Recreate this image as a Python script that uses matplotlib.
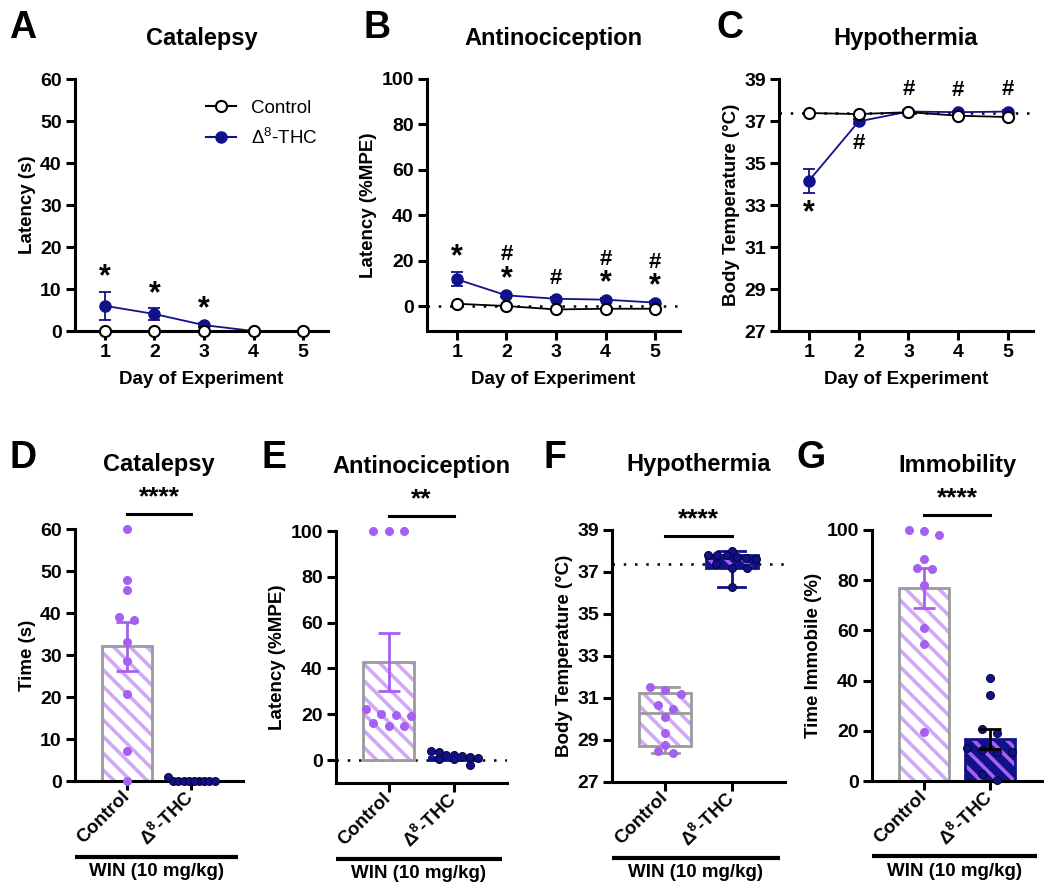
import numpy as np
import matplotlib
matplotlib.use('Agg')
import matplotlib.pyplot as plt
from matplotlib.cbook import boxplot_stats
from matplotlib.patches import PathPatch
from matplotlib.lines import Line2D

plt.rcParams['font.family'] = ['Liberation Sans', 'DejaVu Sans']
plt.rcParams['mathtext.fontset'] = 'custom'
plt.rcParams['mathtext.rm'] = 'Liberation Sans'
plt.rcParams['mathtext.bf'] = 'Liberation Sans:bold'
plt.rcParams['hatch.linewidth'] = 2.6

NAVY = '#11118a'
PURPLE = '#a65ff0'
LILAC = '#d0a8f7'
GRAY = '#9b9b9b'

TICK_FS = 14
LABEL_FS = 13.5
TITLE_FS = 17
LETTER_FS = 27

# ---------------- data: repeated dosing, days 1-5 ----------------
days = [1, 2, 3, 4, 5]
cat_ctrl = [0, 0, 0, 0, 0]
cat_thc = [6.0, 4.05, 1.4, 0, 0]
cat_thc_err = [3.4, 1.5, 0.4, 0, 0]
cat_star = [1, 1, 1, 0, 0]

anti_ctrl = [1.0, 0.0, -1.5, -1.2, -1.2]
anti_thc = [11.8, 4.7, 3.2, 2.8, 1.5]
anti_thc_err = [3.1, 0.8, 0.6, 0.6, 0.5]
anti_star = [1, 1, 0, 1, 1]
anti_hash = [0, 1, 1, 1, 1]

temp_ctrl = [37.38, 37.33, 37.42, 37.25, 37.19]
temp_thc = [34.15, 36.98, 37.45, 37.42, 37.45]
temp_thc_err = [0.57, 0.1, 0.05, 0.05, 0.05]
temp_star = [1, 0, 0, 0, 0]
temp_hash = [0, 1, 1, 1, 1]
baseline_temp = 37.38

# ---------------- data: WIN (10 mg/kg) challenge ----------------
groups = ['Control', r'Δ$^{\mathbf{8}}$-THC']
d_ctrl = [60, 47.9, 45.5, 39.0, 38.4, 33.2, 28.5, 20.7, 7.2, 0]
d_thc = [0, 1.0, 0, 0, 0, 0, 0, 0, 0, 0]
e_ctrl = [100, 100, 100, 22.2, 19.3, 14.8, 19.9, 14.8, 20.3, 16.4]
e_thc = [1.2, -2.2, 1.7, 2.2, 3.9, 0.3, 3.6, 0.3, 2.2, 1.0]
f_ctrl = [31.4, 31.2, 31.5, 30.65, 30.48, 30.1, 29.35, 28.78, 28.38, 28.48]
f_thc = [38.0, 37.8, 37.8, 37.73, 37.8, 37.65, 37.6, 37.4, 37.2, 37.2, 36.3]
g_ctrl = [99.6, 98.0, 100.0, 88.3, 84.7, 84.3, 78.0, 60.8, 54.4, 19.7]
g_thc = [40.9, 34.3, 20.6, 19.0, 11.7, 13.0, 11.7, 12.4, 2.8, 0.5]
sig_bottom = ['****', '**', '****', '****']

W, H = 1050, 896
fig = plt.figure(figsize=(W / 100, H / 100), dpi=100)


def px_axes(l, t, r, b):
    return fig.add_axes([l / W, 1 - b / H, (r - l) / W, (b - t) / H])


def style(ax):
    for s in ['top', 'right']:
        ax.spines[s].set_visible(False)
    for s in ['left', 'bottom']:
        ax.spines[s].set_linewidth(2.2)
    ax.tick_params(width=2.2, length=6.5, labelsize=TICK_FS, pad=3)
    for t in ax.get_xticklabels() + ax.get_yticklabels():
        t.set_fontweight('bold')


def swarm_x(ax, x0, vals, spacing=0.23, maxhalf=0.36, binpx=7):
    vals = np.asarray(vals, float)
    ypx = ax.transData.transform(np.column_stack([np.full(len(vals), x0), vals]))[:, 1]
    order = np.argsort(ypx)
    xs = np.full(len(vals), float(x0))
    groups_ = []
    for i in order:
        if groups_ and ypx[i] - ypx[groups_[-1][0]] <= binpx:
            groups_[-1].append(i)
        else:
            groups_.append([i])
    for g in groups_:
        n = len(g)
        if n == 1:
            continue
        sp = min(spacing, 2 * maxhalf / (n - 1))
        g = sorted(g, key=lambda k: -vals[k])
        for j, k in enumerate(g):
            xs[k] = x0 + (j - (n - 1) / 2) * sp
    return xs


def hatched_bar(ax, x, h, face, hatchcol, edge):
    ax.bar(x, h, width=0.77, color=face, hatch='\\\\', edgecolor=hatchcol, linewidth=0, zorder=1)
    ax.bar(x, h, width=0.77, fill=False, edgecolor=edge, linewidth=2, zorder=2)


def dots(ax, x0, vals, color, edge):
    xs = swarm_x(ax, x0, vals)
    ax.scatter(xs, vals, s=32, color=color, edgecolors=edge, linewidths=0.8, zorder=4, clip_on=False)


def bottom_common(ax, title, letter, letter_x, sig):
    ax.set_xlim(-0.8, 1.8)
    ax.set_xticks([0, 1])
    ax.set_xticklabels(groups)
    style(ax)
    ax.tick_params(axis='x', labelsize=LABEL_FS)
    for t in ax.get_xticklabels():
        t.set_rotation(45)
        t.set_ha('right')
        t.set_va('center')
        t.set_rotation_mode('anchor')
    ax.text(0.5, 1 + 65 / 252, title, transform=ax.transAxes, ha='center', va='center',
            fontsize=TITLE_FS, fontweight='bold')
    fig.text(letter_x / W, 1 - 468 / H, letter, fontsize=LETTER_FS, fontweight='bold')
    ax.plot([0, 0.97], [-0.30, -0.30], transform=ax.transAxes, color='black', lw=3,
            clip_on=False, solid_capstyle='butt')
    ax.text(0.485, -0.36, 'WIN (10 mg/kg)', transform=ax.transAxes, ha='center', va='center',
            fontsize=LABEL_FS, fontweight='bold')
    # significance bar, 15 px above highest point
    allv = np.concatenate([np.ravel(c.get_offsets()[:, 1]) for c in ax.collections if len(c.get_offsets())])
    y0 = ax.transData.transform((0, allv.max()))[1] + 15
    yl = ax.transData.inverted().transform((0, y0))[1]
    ax.plot([0, 1], [yl, yl], color='black', lw=2.2, clip_on=False)
    ax.annotate(sig, xy=(0.5, yl), xytext=(0, 12), textcoords='offset points', ha='center',
                va='center', fontsize=19, fontweight='bold', annotation_clip=False)


def sem(v):
    v = np.asarray(v, float)
    return v.std(ddof=1) / np.sqrt(len(v))


# ---------------- A, B, C ----------------
axA = px_axes(75, 79, 328, 331)
axB = px_axes(427, 79, 680, 331)
axC = px_axes(779, 79, 1033, 331)

for ax, ctrl, thc, err in [(axA, cat_ctrl, cat_thc, cat_thc_err),
                           (axB, anti_ctrl, anti_thc, anti_thc_err),
                           (axC, temp_ctrl, temp_thc, temp_thc_err)]:
    ax.errorbar(days, thc, yerr=err, color=NAVY, lw=1.3, marker='o', ms=8, mfc=NAVY, mec=NAVY,
                capsize=4, capthick=1.3, zorder=3, clip_on=False)
    ax.plot(days, ctrl, color='black', lw=1.3, marker='o', ms=8, mfc='white', mec='black',
            mew=1.5, zorder=4, clip_on=False)
    ax.set_xlim(0.4, 5.5)
    ax.set_xticks(days)
    ax.set_xlabel('Day of Experiment', fontsize=LABEL_FS, fontweight='bold', labelpad=7)

axA.set_ylim(0, 60)
axA.set_yticks(range(0, 61, 10))
axA.set_ylabel('Latency (s)', fontsize=LABEL_FS, fontweight='bold', labelpad=3)
for d, m, e, s in zip(days, cat_thc, cat_thc_err, cat_star):
    if s:
        axA.text(d, m + e + 3.3, '*', ha='center', va='center', fontsize=22, fontweight='bold')
axA.legend(handles=[Line2D([], [], color='black', marker='o', mfc='white', mec='black', ms=8, mew=1.5),
                    Line2D([], [], color=NAVY, marker='o', mfc=NAVY, mec=NAVY, ms=8)],
           labels=['Control', r'Δ$^{8}$-THC'], loc='upper left', bbox_to_anchor=(0.45, 0.985),
           frameon=False, fontsize=LABEL_FS, handlelength=1.6, labelspacing=0.55, handletextpad=0.8)

axB.set_ylim(-11, 100)
axB.set_yticks(range(0, 101, 20))
axB.set_ylabel('Latency (%MPE)', fontsize=LABEL_FS, fontweight='bold', labelpad=3)
axB.axhline(0, color='black', lw=1.8, ls=(0, (1, 3.5)), zorder=1)
for d, m, e, s, h in zip(days, anti_thc, anti_thc_err, anti_star, anti_hash):
    ys = m + e + 6.5
    if s:
        axB.text(d, ys, '*', ha='center', va='center', fontsize=22, fontweight='bold')
    if h:
        axB.text(d, ys + 10.5 if s else m + 9, '#', ha='center', va='center', fontsize=16, fontweight='bold')

axC.set_ylim(27, 39)
axC.set_yticks(range(27, 40, 2))
axC.set_ylabel('Body Temperature (°C)', fontsize=LABEL_FS, fontweight='bold', labelpad=3)
axC.axhline(baseline_temp, color='black', lw=1.8, ls=(0, (1, 3.5)), zorder=1)
for d, m, c, e, s, h in zip(days, temp_thc, temp_ctrl, temp_thc_err, temp_star, temp_hash):
    sym = '*' if s else ('#' if h else '')
    if not sym:
        continue
    y = m - e - 0.95 if m < c - 0.2 else max(m, c) + 1.05
    axC.text(d, y, sym, ha='center', va='center', fontsize=22 if s else 16, fontweight='bold')

for ax in (axA, axB, axC):
    style(ax)

for ax, title in [(axA, 'Catalepsy'), (axB, 'Antinociception'), (axC, 'Hypothermia')]:
    ax.text(0.5, 1 + 41 / 252, title, transform=ax.transAxes, ha='center', va='center',
            fontsize=TITLE_FS, fontweight='bold')
for lt, x in [('A', 9), ('B', 364), ('C', 716)]:
    fig.text(x / W, 1 - 38 / H, lt, fontsize=LETTER_FS, fontweight='bold')

# ---------------- D ----------------
axD = px_axes(75, 529, 243, 781)
axD.set_ylim(0, 60)
axD.set_xlim(-0.8, 1.8)
axD.set_yticks(range(0, 61, 10))
axD.set_ylabel('Time (s)', fontsize=LABEL_FS, fontweight='bold', labelpad=3)
hatched_bar(axD, 0, np.mean(d_ctrl), 'white', LILAC, GRAY)
hatched_bar(axD, 1, np.mean(d_thc), NAVY, PURPLE, NAVY)
dots(axD, 0, d_ctrl, PURPLE, PURPLE)
dots(axD, 1, d_thc, NAVY, '#05053f')
axD.errorbar(0, np.mean(d_ctrl), yerr=sem(d_ctrl), color=PURPLE, lw=2, capsize=8, capthick=2, zorder=5)
bottom_common(axD, 'Catalepsy', 'D', 9, sig_bottom[0])

# ---------------- E ----------------
axE = px_axes(336, 531, 507, 783)
axE.set_ylim(-10, 100)
axE.set_xlim(-0.8, 1.8)
axE.set_yticks(range(0, 101, 20))
axE.set_ylabel('Latency (%MPE)', fontsize=LABEL_FS, fontweight='bold', labelpad=3)
axE.axhline(0, color='black', lw=1.8, ls=(0, (1, 3.5)), zorder=0)
hatched_bar(axE, 0, np.mean(e_ctrl), 'white', LILAC, GRAY)
hatched_bar(axE, 1, np.mean(e_thc), NAVY, PURPLE, NAVY)
dots(axE, 0, e_ctrl, PURPLE, PURPLE)
dots(axE, 1, e_thc, NAVY, '#05053f')
axE.errorbar(0, np.mean(e_ctrl), yerr=sem(e_ctrl), color=PURPLE, lw=2, capsize=8, capthick=2, zorder=5)
axE.errorbar(1, np.mean(e_thc), yerr=sem(e_thc), color=NAVY, lw=2, capsize=8, capthick=2, zorder=5)
bottom_common(axE, 'Antinociception', 'E', 261, sig_bottom[1])

# ---------------- F ----------------
axF = px_axes(612, 530, 785, 782)
axF.set_ylim(27, 39)
axF.set_xlim(-0.8, 1.8)
axF.set_yticks(range(27, 40, 2))
axF.set_ylabel('Body Temperature (°C)', fontsize=LABEL_FS, fontweight='bold', labelpad=3)
axF.axhline(baseline_temp, color='black', lw=1.8, ls=(0, (1, 3.5)), zorder=0)
for x0, vals, face, hc, edge in [(0, f_ctrl, 'white', LILAC, GRAY), (1, f_thc, NAVY, PURPLE, NAVY)]:
    st = boxplot_stats(vals, whis=(0, 100))[0]
    st['q1'], st['q3'] = np.percentile(vals, [25, 75], method='weibull')
    st['fliers'] = []
    bp = axF.bxp([st], positions=[x0], widths=0.78, patch_artist=True, showcaps=True,
                 boxprops=dict(facecolor=face, edgecolor=hc, hatch='\\\\', linewidth=0),
                 medianprops=dict(color=edge, linewidth=2),
                 whiskerprops=dict(color=edge, linewidth=2),
                 capprops=dict(color=edge, linewidth=2), capwidths=0.4)
    box = bp['boxes'][0]
    axF.add_patch(PathPatch(box.get_path(), facecolor='none', edgecolor=edge, linewidth=2, zorder=3))
dots(axF, 0, f_ctrl, PURPLE, PURPLE)
dots(axF, 1, f_thc, NAVY, '#05053f')
bottom_common(axF, 'Hypothermia', 'F', 544, sig_bottom[2])

# ---------------- G ----------------
axG = px_axes(872, 530, 1042, 781)
axG.set_ylim(0, 100)
axG.set_xlim(-0.8, 1.8)
axG.set_yticks(range(0, 101, 20))
axG.set_ylabel('Time Immobile (%)', fontsize=LABEL_FS, fontweight='bold', labelpad=3)
hatched_bar(axG, 0, np.mean(g_ctrl), 'white', LILAC, GRAY)
hatched_bar(axG, 1, np.mean(g_thc), NAVY, PURPLE, NAVY)
dots(axG, 0, g_ctrl, PURPLE, PURPLE)
dots(axG, 1, g_thc, NAVY, '#05053f')
axG.errorbar(0, np.mean(g_ctrl), yerr=sem(g_ctrl), color=PURPLE, lw=2, capsize=8, capthick=2, zorder=5)
axG.errorbar(1, np.mean(g_thc), yerr=sem(g_thc), color='black', lw=2, capsize=8, capthick=2, zorder=5)
bottom_common(axG, 'Immobility', 'G', 796, sig_bottom[3])

fig.savefig('out.png', dpi=100)
